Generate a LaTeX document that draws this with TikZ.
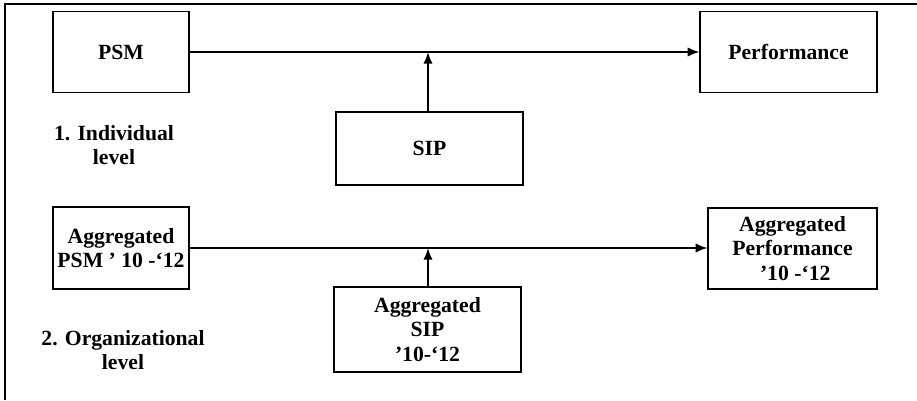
\documentclass[tikz,border=0pt]{standalone}
\usepackage{fontspec}
\setmainfont{Liberation Serif}
\usetikzlibrary{arrows.meta}

\tikzset{
    box/.style={draw, line width=1pt, align=center, font=\fontsize{18.5}{21}\selectfont\bfseries},
    lbl/.style={align=center, font=\fontsize{18.5}{21}\selectfont\bfseries},
    link/.style={line width=1.6pt, -{Latex[length=10pt, width=8pt]}}
}

\begin{document}
\begin{tikzpicture}
    \useasboundingbox (0,0) rectangle (27.51,12);

    % Frame
    \draw[line width=1pt] (0.15,0) -- (0.15,11.88) -- (27.51,11.88);

    % Individual level
    \node[box, minimum width=4.08cm, minimum height=2.43cm] (psm) at (3.63,10.44) {PSM};
    \node[box, minimum width=5.31cm, minimum height=2.43cm] (perf) at (23.655,10.44) {Performance};
    \node[box, minimum width=5.61cm, minimum height=2.19cm] (sip) at (12.885,7.545) {SIP};
    \node[lbl] (indlabel) at (3.42,7.65) {1. Individual\\level};

    \draw[link] (psm) -- (perf);
    \draw[link] (sip.north -| 12.84,0) -- (12.84,0 |- psm.east);

    % Organizational level
    \node[box, minimum width=4.08cm, minimum height=2.46cm] (apsm) at (3.63,4.56) {Aggregated\\PSM ’ 10 -‘12};
    \node[box, minimum width=5.07cm, minimum height=2.43cm] (aperf) at (23.775,4.545) {Aggregated\\Performance\\ \ ’10 -‘12};
    \node[box, minimum width=5.61cm, minimum height=2.55cm] (asip) at (12.825,2.115) {Aggregated\\SIP\\’10-‘12};
    \node[lbl] (orglabel) at (3.69,1.5) {2. Organizational\\level};

    \draw[link] (apsm) -- (apsm -| aperf.west);
    \draw[link] (asip.north -| 12.84,0) -- (12.84,0 |- apsm.east);

\end{tikzpicture}
\end{document}
